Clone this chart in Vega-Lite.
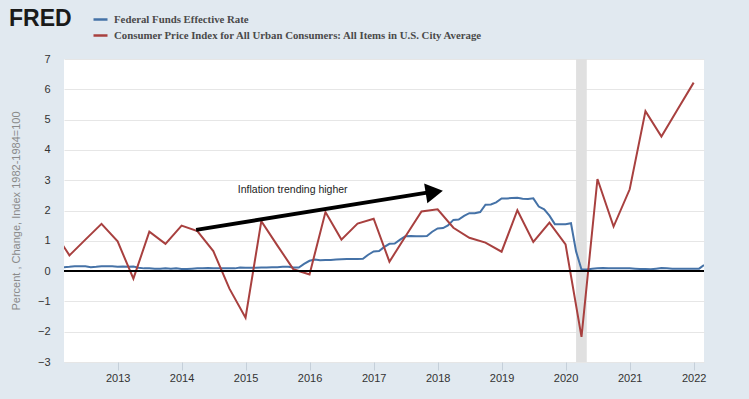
{
  "$schema": "https://vega.github.io/schema/vega-lite/v6.json",
  "width": 640,
  "height": 303,
  "autosize": {"type": "none"},
  "padding": {"left": 64, "top": 59, "right": 45, "bottom": 37},
  "background": "#e1e9f0",
  "config": {"view": {"fill": "#ffffff", "stroke": null}, "font": "Liberation Sans"},
  "resolve": {"axis": {"x": "independent", "y": "independent"}},
  "datasets": {
    "recession": [{"start": "2020-03-01", "end": "2020-05-01"}],
    "zero": [{"value": 0}],
    "shaft": [{"date": "2014-03-25", "value": 1.36}, {"date": "2017-11-02", "value": 2.59}],
    "head": [{"date": "2017-12-13", "value": 2.61}],
    "note": [{"date": "2014-11-18", "value": 2.68, "label": "Inflation trending higher"}],
    "series": [
      {"date": "2012-03-01", "value": 0.13, "series": "Federal Funds Effective Rate"},
      {"date": "2012-04-01", "value": 0.14, "series": "Federal Funds Effective Rate"},
      {"date": "2012-05-01", "value": 0.16, "series": "Federal Funds Effective Rate"},
      {"date": "2012-06-01", "value": 0.16, "series": "Federal Funds Effective Rate"},
      {"date": "2012-07-01", "value": 0.16, "series": "Federal Funds Effective Rate"},
      {"date": "2012-08-01", "value": 0.13, "series": "Federal Funds Effective Rate"},
      {"date": "2012-09-01", "value": 0.14, "series": "Federal Funds Effective Rate"},
      {"date": "2012-10-01", "value": 0.16, "series": "Federal Funds Effective Rate"},
      {"date": "2012-11-01", "value": 0.16, "series": "Federal Funds Effective Rate"},
      {"date": "2012-12-01", "value": 0.16, "series": "Federal Funds Effective Rate"},
      {"date": "2013-01-01", "value": 0.14, "series": "Federal Funds Effective Rate"},
      {"date": "2013-02-01", "value": 0.15, "series": "Federal Funds Effective Rate"},
      {"date": "2013-03-01", "value": 0.14, "series": "Federal Funds Effective Rate"},
      {"date": "2013-04-01", "value": 0.15, "series": "Federal Funds Effective Rate"},
      {"date": "2013-05-01", "value": 0.11, "series": "Federal Funds Effective Rate"},
      {"date": "2013-06-01", "value": 0.09, "series": "Federal Funds Effective Rate"},
      {"date": "2013-07-01", "value": 0.09, "series": "Federal Funds Effective Rate"},
      {"date": "2013-08-01", "value": 0.08, "series": "Federal Funds Effective Rate"},
      {"date": "2013-09-01", "value": 0.08, "series": "Federal Funds Effective Rate"},
      {"date": "2013-10-01", "value": 0.09, "series": "Federal Funds Effective Rate"},
      {"date": "2013-11-01", "value": 0.08, "series": "Federal Funds Effective Rate"},
      {"date": "2013-12-01", "value": 0.09, "series": "Federal Funds Effective Rate"},
      {"date": "2014-01-01", "value": 0.07, "series": "Federal Funds Effective Rate"},
      {"date": "2014-02-01", "value": 0.07, "series": "Federal Funds Effective Rate"},
      {"date": "2014-03-01", "value": 0.08, "series": "Federal Funds Effective Rate"},
      {"date": "2014-04-01", "value": 0.09, "series": "Federal Funds Effective Rate"},
      {"date": "2014-05-01", "value": 0.09, "series": "Federal Funds Effective Rate"},
      {"date": "2014-06-01", "value": 0.10, "series": "Federal Funds Effective Rate"},
      {"date": "2014-07-01", "value": 0.09, "series": "Federal Funds Effective Rate"},
      {"date": "2014-08-01", "value": 0.09, "series": "Federal Funds Effective Rate"},
      {"date": "2014-09-01", "value": 0.09, "series": "Federal Funds Effective Rate"},
      {"date": "2014-10-01", "value": 0.09, "series": "Federal Funds Effective Rate"},
      {"date": "2014-11-01", "value": 0.09, "series": "Federal Funds Effective Rate"},
      {"date": "2014-12-01", "value": 0.12, "series": "Federal Funds Effective Rate"},
      {"date": "2015-01-01", "value": 0.11, "series": "Federal Funds Effective Rate"},
      {"date": "2015-02-01", "value": 0.11, "series": "Federal Funds Effective Rate"},
      {"date": "2015-03-01", "value": 0.11, "series": "Federal Funds Effective Rate"},
      {"date": "2015-04-01", "value": 0.12, "series": "Federal Funds Effective Rate"},
      {"date": "2015-05-01", "value": 0.12, "series": "Federal Funds Effective Rate"},
      {"date": "2015-06-01", "value": 0.13, "series": "Federal Funds Effective Rate"},
      {"date": "2015-07-01", "value": 0.13, "series": "Federal Funds Effective Rate"},
      {"date": "2015-08-01", "value": 0.14, "series": "Federal Funds Effective Rate"},
      {"date": "2015-09-01", "value": 0.14, "series": "Federal Funds Effective Rate"},
      {"date": "2015-10-01", "value": 0.12, "series": "Federal Funds Effective Rate"},
      {"date": "2015-11-01", "value": 0.12, "series": "Federal Funds Effective Rate"},
      {"date": "2015-12-01", "value": 0.24, "series": "Federal Funds Effective Rate"},
      {"date": "2016-01-01", "value": 0.34, "series": "Federal Funds Effective Rate"},
      {"date": "2016-02-01", "value": 0.38, "series": "Federal Funds Effective Rate"},
      {"date": "2016-03-01", "value": 0.36, "series": "Federal Funds Effective Rate"},
      {"date": "2016-04-01", "value": 0.37, "series": "Federal Funds Effective Rate"},
      {"date": "2016-05-01", "value": 0.37, "series": "Federal Funds Effective Rate"},
      {"date": "2016-06-01", "value": 0.38, "series": "Federal Funds Effective Rate"},
      {"date": "2016-07-01", "value": 0.39, "series": "Federal Funds Effective Rate"},
      {"date": "2016-08-01", "value": 0.40, "series": "Federal Funds Effective Rate"},
      {"date": "2016-09-01", "value": 0.40, "series": "Federal Funds Effective Rate"},
      {"date": "2016-10-01", "value": 0.40, "series": "Federal Funds Effective Rate"},
      {"date": "2016-11-01", "value": 0.41, "series": "Federal Funds Effective Rate"},
      {"date": "2016-12-01", "value": 0.54, "series": "Federal Funds Effective Rate"},
      {"date": "2017-01-01", "value": 0.65, "series": "Federal Funds Effective Rate"},
      {"date": "2017-02-01", "value": 0.66, "series": "Federal Funds Effective Rate"},
      {"date": "2017-03-01", "value": 0.79, "series": "Federal Funds Effective Rate"},
      {"date": "2017-04-01", "value": 0.90, "series": "Federal Funds Effective Rate"},
      {"date": "2017-05-01", "value": 0.91, "series": "Federal Funds Effective Rate"},
      {"date": "2017-06-01", "value": 1.04, "series": "Federal Funds Effective Rate"},
      {"date": "2017-07-01", "value": 1.15, "series": "Federal Funds Effective Rate"},
      {"date": "2017-08-01", "value": 1.16, "series": "Federal Funds Effective Rate"},
      {"date": "2017-09-01", "value": 1.15, "series": "Federal Funds Effective Rate"},
      {"date": "2017-10-01", "value": 1.15, "series": "Federal Funds Effective Rate"},
      {"date": "2017-11-01", "value": 1.16, "series": "Federal Funds Effective Rate"},
      {"date": "2017-12-01", "value": 1.30, "series": "Federal Funds Effective Rate"},
      {"date": "2018-01-01", "value": 1.41, "series": "Federal Funds Effective Rate"},
      {"date": "2018-02-01", "value": 1.42, "series": "Federal Funds Effective Rate"},
      {"date": "2018-03-01", "value": 1.51, "series": "Federal Funds Effective Rate"},
      {"date": "2018-04-01", "value": 1.69, "series": "Federal Funds Effective Rate"},
      {"date": "2018-05-01", "value": 1.70, "series": "Federal Funds Effective Rate"},
      {"date": "2018-06-01", "value": 1.82, "series": "Federal Funds Effective Rate"},
      {"date": "2018-07-01", "value": 1.91, "series": "Federal Funds Effective Rate"},
      {"date": "2018-08-01", "value": 1.91, "series": "Federal Funds Effective Rate"},
      {"date": "2018-09-01", "value": 1.95, "series": "Federal Funds Effective Rate"},
      {"date": "2018-10-01", "value": 2.19, "series": "Federal Funds Effective Rate"},
      {"date": "2018-11-01", "value": 2.20, "series": "Federal Funds Effective Rate"},
      {"date": "2018-12-01", "value": 2.27, "series": "Federal Funds Effective Rate"},
      {"date": "2019-01-01", "value": 2.40, "series": "Federal Funds Effective Rate"},
      {"date": "2019-02-01", "value": 2.40, "series": "Federal Funds Effective Rate"},
      {"date": "2019-03-01", "value": 2.41, "series": "Federal Funds Effective Rate"},
      {"date": "2019-04-01", "value": 2.42, "series": "Federal Funds Effective Rate"},
      {"date": "2019-05-01", "value": 2.39, "series": "Federal Funds Effective Rate"},
      {"date": "2019-06-01", "value": 2.38, "series": "Federal Funds Effective Rate"},
      {"date": "2019-07-01", "value": 2.40, "series": "Federal Funds Effective Rate"},
      {"date": "2019-08-01", "value": 2.13, "series": "Federal Funds Effective Rate"},
      {"date": "2019-09-01", "value": 2.04, "series": "Federal Funds Effective Rate"},
      {"date": "2019-10-01", "value": 1.83, "series": "Federal Funds Effective Rate"},
      {"date": "2019-11-01", "value": 1.55, "series": "Federal Funds Effective Rate"},
      {"date": "2019-12-01", "value": 1.55, "series": "Federal Funds Effective Rate"},
      {"date": "2020-01-01", "value": 1.55, "series": "Federal Funds Effective Rate"},
      {"date": "2020-02-01", "value": 1.58, "series": "Federal Funds Effective Rate"},
      {"date": "2020-03-01", "value": 0.65, "series": "Federal Funds Effective Rate"},
      {"date": "2020-04-01", "value": 0.05, "series": "Federal Funds Effective Rate"},
      {"date": "2020-05-01", "value": 0.05, "series": "Federal Funds Effective Rate"},
      {"date": "2020-06-01", "value": 0.08, "series": "Federal Funds Effective Rate"},
      {"date": "2020-07-01", "value": 0.09, "series": "Federal Funds Effective Rate"},
      {"date": "2020-08-01", "value": 0.10, "series": "Federal Funds Effective Rate"},
      {"date": "2020-09-01", "value": 0.09, "series": "Federal Funds Effective Rate"},
      {"date": "2020-10-01", "value": 0.09, "series": "Federal Funds Effective Rate"},
      {"date": "2020-11-01", "value": 0.09, "series": "Federal Funds Effective Rate"},
      {"date": "2020-12-01", "value": 0.09, "series": "Federal Funds Effective Rate"},
      {"date": "2021-01-01", "value": 0.09, "series": "Federal Funds Effective Rate"},
      {"date": "2021-02-01", "value": 0.08, "series": "Federal Funds Effective Rate"},
      {"date": "2021-03-01", "value": 0.07, "series": "Federal Funds Effective Rate"},
      {"date": "2021-04-01", "value": 0.07, "series": "Federal Funds Effective Rate"},
      {"date": "2021-05-01", "value": 0.06, "series": "Federal Funds Effective Rate"},
      {"date": "2021-06-01", "value": 0.08, "series": "Federal Funds Effective Rate"},
      {"date": "2021-07-01", "value": 0.10, "series": "Federal Funds Effective Rate"},
      {"date": "2021-08-01", "value": 0.09, "series": "Federal Funds Effective Rate"},
      {"date": "2021-09-01", "value": 0.08, "series": "Federal Funds Effective Rate"},
      {"date": "2021-10-01", "value": 0.08, "series": "Federal Funds Effective Rate"},
      {"date": "2021-11-01", "value": 0.08, "series": "Federal Funds Effective Rate"},
      {"date": "2021-12-01", "value": 0.08, "series": "Federal Funds Effective Rate"},
      {"date": "2022-01-01", "value": 0.08, "series": "Federal Funds Effective Rate"},
      {"date": "2022-02-01", "value": 0.08, "series": "Federal Funds Effective Rate"},
      {"date": "2022-03-01", "value": 0.20, "series": "Federal Funds Effective Rate"},
      {"date": "2012-01-01", "value": 1.33, "series": "Consumer Price Index for All Urban Consumers: All Items in U.S. City Average"},
      {"date": "2012-04-01", "value": 0.52, "series": "Consumer Price Index for All Urban Consumers: All Items in U.S. City Average"},
      {"date": "2012-07-01", "value": 1.04, "series": "Consumer Price Index for All Urban Consumers: All Items in U.S. City Average"},
      {"date": "2012-10-01", "value": 1.56, "series": "Consumer Price Index for All Urban Consumers: All Items in U.S. City Average"},
      {"date": "2013-01-01", "value": 0.98, "series": "Consumer Price Index for All Urban Consumers: All Items in U.S. City Average"},
      {"date": "2013-04-01", "value": -0.25, "series": "Consumer Price Index for All Urban Consumers: All Items in U.S. City Average"},
      {"date": "2013-07-01", "value": 1.30, "series": "Consumer Price Index for All Urban Consumers: All Items in U.S. City Average"},
      {"date": "2013-10-01", "value": 0.90, "series": "Consumer Price Index for All Urban Consumers: All Items in U.S. City Average"},
      {"date": "2014-01-01", "value": 1.50, "series": "Consumer Price Index for All Urban Consumers: All Items in U.S. City Average"},
      {"date": "2014-04-01", "value": 1.32, "series": "Consumer Price Index for All Urban Consumers: All Items in U.S. City Average"},
      {"date": "2014-07-01", "value": 0.66, "series": "Consumer Price Index for All Urban Consumers: All Items in U.S. City Average"},
      {"date": "2014-10-01", "value": -0.58, "series": "Consumer Price Index for All Urban Consumers: All Items in U.S. City Average"},
      {"date": "2015-01-01", "value": -1.54, "series": "Consumer Price Index for All Urban Consumers: All Items in U.S. City Average"},
      {"date": "2015-04-01", "value": 1.65, "series": "Consumer Price Index for All Urban Consumers: All Items in U.S. City Average"},
      {"date": "2015-07-01", "value": 0.85, "series": "Consumer Price Index for All Urban Consumers: All Items in U.S. City Average"},
      {"date": "2015-10-01", "value": 0.06, "series": "Consumer Price Index for All Urban Consumers: All Items in U.S. City Average"},
      {"date": "2016-01-01", "value": -0.11, "series": "Consumer Price Index for All Urban Consumers: All Items in U.S. City Average"},
      {"date": "2016-04-01", "value": 1.95, "series": "Consumer Price Index for All Urban Consumers: All Items in U.S. City Average"},
      {"date": "2016-07-01", "value": 1.04, "series": "Consumer Price Index for All Urban Consumers: All Items in U.S. City Average"},
      {"date": "2016-10-01", "value": 1.57, "series": "Consumer Price Index for All Urban Consumers: All Items in U.S. City Average"},
      {"date": "2017-01-01", "value": 1.73, "series": "Consumer Price Index for All Urban Consumers: All Items in U.S. City Average"},
      {"date": "2017-04-01", "value": 0.31, "series": "Consumer Price Index for All Urban Consumers: All Items in U.S. City Average"},
      {"date": "2017-07-01", "value": 1.14, "series": "Consumer Price Index for All Urban Consumers: All Items in U.S. City Average"},
      {"date": "2017-10-01", "value": 1.97, "series": "Consumer Price Index for All Urban Consumers: All Items in U.S. City Average"},
      {"date": "2018-01-01", "value": 2.04, "series": "Consumer Price Index for All Urban Consumers: All Items in U.S. City Average"},
      {"date": "2018-04-01", "value": 1.43, "series": "Consumer Price Index for All Urban Consumers: All Items in U.S. City Average"},
      {"date": "2018-07-01", "value": 1.10, "series": "Consumer Price Index for All Urban Consumers: All Items in U.S. City Average"},
      {"date": "2018-10-01", "value": 0.94, "series": "Consumer Price Index for All Urban Consumers: All Items in U.S. City Average"},
      {"date": "2019-01-01", "value": 0.64, "series": "Consumer Price Index for All Urban Consumers: All Items in U.S. City Average"},
      {"date": "2019-04-01", "value": 2.01, "series": "Consumer Price Index for All Urban Consumers: All Items in U.S. City Average"},
      {"date": "2019-07-01", "value": 0.96, "series": "Consumer Price Index for All Urban Consumers: All Items in U.S. City Average"},
      {"date": "2019-10-01", "value": 1.60, "series": "Consumer Price Index for All Urban Consumers: All Items in U.S. City Average"},
      {"date": "2020-01-01", "value": 0.88, "series": "Consumer Price Index for All Urban Consumers: All Items in U.S. City Average"},
      {"date": "2020-04-01", "value": -2.17, "series": "Consumer Price Index for All Urban Consumers: All Items in U.S. City Average"},
      {"date": "2020-07-01", "value": 3.04, "series": "Consumer Price Index for All Urban Consumers: All Items in U.S. City Average"},
      {"date": "2020-10-01", "value": 1.47, "series": "Consumer Price Index for All Urban Consumers: All Items in U.S. City Average"},
      {"date": "2021-01-01", "value": 2.70, "series": "Consumer Price Index for All Urban Consumers: All Items in U.S. City Average"},
      {"date": "2021-04-01", "value": 5.28, "series": "Consumer Price Index for All Urban Consumers: All Items in U.S. City Average"},
      {"date": "2021-07-01", "value": 4.44, "series": "Consumer Price Index for All Urban Consumers: All Items in U.S. City Average"},
      {"date": "2021-10-01", "value": 5.33, "series": "Consumer Price Index for All Urban Consumers: All Items in U.S. City Average"},
      {"date": "2022-01-01", "value": 6.22, "series": "Consumer Price Index for All Urban Consumers: All Items in U.S. City Average"}
    ]
  },
  "layer": [
    {
      "data": {"name": "recession"},
      "mark": {"type": "rect", "color": "#e0e0e0"},
      "encoding": {
        "x": {"field": "start", "type": "temporal", "axis": null},
        "x2": {"field": "end"}
      }
    },
    {
      "data": {"name": "series"},
      "mark": {"type": "line", "strokeWidth": 2, "clip": true},
      "encoding": {
        "x": {
          "field": "date", "type": "temporal",
          "scale": {"type": "utc", "domain": [{"year": 2012, "month": 3, "date": 1, "utc": true}, {"year": 2022, "month": 3, "date": 1, "utc": true}]},
          "axis": {"title": null, "format": "%Y", "tickCount": {"interval": "year", "step": 1}, "grid": false, "domain": false, "ticks": true, "tickColor": "#c5cfd9", "tickSize": 8, "labelPadding": 2, "labelFontSize": 11, "labelColor": "#333333", "labelFont": "Liberation Sans"}
        },
        "y": {
          "field": "value", "type": "quantitative",
          "scale": {"domain": [-3, 7], "nice": false, "zero": false},
          "axis": {"title": "Percent , Change, Index 1982-1984=100", "values": [-3, -2, -1, 0, 1, 2, 3, 4, 5, 6, 7], "grid": true, "gridColor": "#e6e6e6", "gridWidth": 1.2, "domain": false, "ticks": false, "labelPadding": 14, "labelFontSize": 11, "labelColor": "#333333", "labelFont": "Liberation Sans", "titleFont": "Liberation Sans", "titleFontSize": 11, "titleFontWeight": "normal", "titleColor": "#8a8a8a", "titlePadding": 16}
        },
        "color": {
          "field": "series", "type": "nominal",
          "scale": {"domain": ["Federal Funds Effective Rate", "Consumer Price Index for All Urban Consumers: All Items in U.S. City Average"], "range": ["#4572a7", "#a8403f"]},
          "legend": {"orient": "none", "legendX": -55, "legendY": -48, "title": "FRED", "titleOrient": "left", "titleFont": "Liberation Sans", "titleFontSize": 23, "titleFontWeight": "bold", "titleColor": "#1a1a1a", "titlePadding": 20, "titleBaseline": "alphabetic", "titleLineHeight": 20, "labelFont": "Liberation Serif", "labelFontWeight": "bold", "labelFontSize": 10.8, "labelColor": "#4a4a4a", "symbolType": "stroke", "symbolSize": 196, "symbolStrokeWidth": 2.5, "labelOffset": 5, "rowPadding": 2, "labelLimit": 600, "padding": 0}
        }
      }
    },
    {
      "data": {"name": "zero"},
      "mark": {"type": "rule", "color": "#000000", "strokeWidth": 2},
      "encoding": {"y": {"field": "value", "type": "quantitative", "axis": null}}
    },
    {
      "data": {"name": "shaft"},
      "mark": {"type": "line", "color": "#000000", "strokeWidth": 4},
      "encoding": {
        "x": {"field": "date", "type": "temporal", "axis": null},
        "y": {"field": "value", "type": "quantitative", "axis": null}
      }
    },
    {
      "data": {"name": "head"},
      "mark": {"type": "point", "shape": "triangle-right", "filled": true, "color": "#000000", "size": 400, "angle": 350.8, "opacity": 1},
      "encoding": {
        "x": {"field": "date", "type": "temporal", "axis": null},
        "y": {"field": "value", "type": "quantitative", "axis": null}
      }
    },
    {
      "data": {"name": "note"},
      "mark": {"type": "text", "align": "left", "baseline": "middle", "font": "Liberation Sans", "fontSize": 10.5, "color": "#222222"},
      "encoding": {
        "x": {"field": "date", "type": "temporal", "axis": null},
        "y": {"field": "value", "type": "quantitative", "axis": null},
        "text": {"field": "label"}
      }
    }
  ]
}
